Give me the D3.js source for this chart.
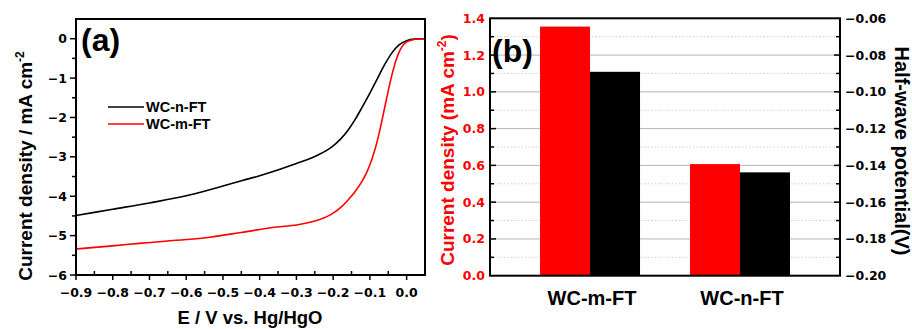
<!DOCTYPE html>
<html lang="en">
  <head>
    <meta charset="UTF-8" />
    <title>WC-FT LSV</title>
    <style>
      body { margin: 0; background: #fff; }
      svg text { font-family: "Liberation Sans", Arial, sans-serif; font-weight: bold; }
      .tick-lbl { font-family: "DejaVu Sans", sans-serif; font-size: 12.5px; }
    </style>
  </head>
  <body>
    <div class="chart"></div>
    <script src="https://d3js.org/d3.v7.min.js"></script>
    <script>
      // (a) LSV curves
      const nftE = [-0.9, -0.8, -0.7, -0.6, -0.5, -0.447, -0.4, -0.3, -0.25, -0.22, -0.2, -0.18, -0.16, -0.14, -0.12, -0.1, -0.08, -0.06, -0.04, -0.02, 0.0, 0.02, 0.05];
      const nftJ = [-4.49, -4.33, -4.17, -3.99, -3.74, -3.6, -3.48, -3.17, -2.99, -2.85, -2.72, -2.55, -2.33, -2.05, -1.72, -1.38, -1.02, -0.66, -0.36, -0.15, -0.05, -0.01, 0];
      const mftE = [-0.9, -0.8, -0.72, -0.6, -0.536, -0.45, -0.354, -0.3, -0.25, -0.22, -0.2, -0.18, -0.16, -0.14, -0.12, -0.11, -0.1, -0.09, -0.08, -0.07, -0.06, -0.05, -0.04, -0.03, -0.02, -0.01, 0.0, 0.02, 0.04, 0.05];
      const mftJ = [-5.34, -5.26, -5.19, -5.1, -5.04, -4.92, -4.78, -4.73, -4.63, -4.53, -4.43, -4.29, -4.1, -3.88, -3.6, -3.42, -3.2, -2.93, -2.6, -2.2, -1.76, -1.32, -0.92, -0.58, -0.33, -0.17, -0.08, -0.02, 0, 0];
      const xTicksA = [-0.9, -0.8, -0.7, -0.6, -0.5, -0.4, -0.3, -0.2, -0.1, 0.0];
      const yTicksA = [0, -1, -2, -3, -4, -5, -6];

      // (b) bars
      const samples = ["WC-m-FT", "WC-n-FT"];
      const currentDensity = [1.355, 0.607];
      const halfWave = [-0.0891, -0.1438];
      const yTicksB = [0.0, 0.2, 0.4, 0.6, 0.8, 1.0, 1.2, 1.4];
      const y2TicksB = [-0.2, -0.18, -0.16, -0.14, -0.12, -0.1, -0.08, -0.06];

      const width = 912;
      const height = 329;
      const red = "#ff0000";

      const svg = d3
        .select(".chart")
        .append("svg")
        .attr("width", width)
        .attr("height", height);

      // ---------- panel (a) ----------
      const xA = d3.scaleLinear().domain([-0.9, 0.05]).range([76, 425]);
      const yA = d3.scaleLinear().domain([-6, 0.5]).range([275, 19]);

      const line = d3
        .line()
        .x((d) => xA(d[0]))
        .y((d) => yA(d[1]))
        .curve(d3.curveMonotoneX);

      const gA = svg.append("g");

      gA.append("path")
        .datum(nftE.map((e, i) => [e, nftJ[i]]))
        .attr("d", line)
        .attr("fill", "none")
        .attr("stroke", "#000")
        .attr("stroke-width", 1.6);

      gA.append("path")
        .datum(mftE.map((e, i) => [e, mftJ[i]]))
        .attr("d", line)
        .attr("fill", "none")
        .attr("stroke", red)
        .attr("stroke-width", 1.6);

      // frame
      gA.append("rect")
        .attr("x", xA.range()[0])
        .attr("y", yA.range()[1])
        .attr("width", xA.range()[1] - xA.range()[0])
        .attr("height", yA.range()[0] - yA.range()[1])
        .attr("fill", "none")
        .attr("stroke", "#000")
        .attr("stroke-width", 2);

      // x ticks: major out, minor in
      gA.selectAll(".xmaj")
        .data(xTicksA)
        .join("line")
        .attr("x1", (d) => xA(d))
        .attr("x2", (d) => xA(d))
        .attr("y1", 275)
        .attr("y2", 280)
        .attr("stroke", "#000")
        .attr("stroke-width", 1.5);
      gA.selectAll(".xmin")
        .data(xTicksA.map((d) => d + 0.05))
        .join("line")
        .attr("x1", (d) => xA(d))
        .attr("x2", (d) => xA(d))
        .attr("y1", 275)
        .attr("y2", 271)
        .attr("stroke", "#000")
        .attr("stroke-width", 1.5);
      gA.selectAll(".xlbl")
        .data(xTicksA)
        .join("text")
        .attr("class", "tick-lbl")
        .attr("x", (d) => xA(d))
        .attr("y", 297)
        .attr("text-anchor", "middle")
        .text((d) => d3.format(".1f")(d));

      // y ticks
      gA.selectAll(".ymaj")
        .data(yTicksA)
        .join("line")
        .attr("x1", 70)
        .attr("x2", 76)
        .attr("y1", (d) => yA(d))
        .attr("y2", (d) => yA(d))
        .attr("stroke", "#000")
        .attr("stroke-width", 1.5);
      gA.selectAll(".ymin")
        .data(yTicksA.slice(0, -1).map((d) => d - 0.5))
        .join("line")
        .attr("x1", 72)
        .attr("x2", 76)
        .attr("y1", (d) => yA(d))
        .attr("y2", (d) => yA(d))
        .attr("stroke", "#000")
        .attr("stroke-width", 1.5);
      gA.selectAll(".ylbl")
        .data(yTicksA)
        .join("text")
        .attr("class", "tick-lbl")
        .attr("x", 67)
        .attr("y", (d) => yA(d) + 4.5)
        .attr("text-anchor", "end")
        .text((d) => d3.format("d")(d));

      // legend
      const legend = [
        { name: "WC-n-FT", color: "#000", y: 107 },
        { name: "WC-m-FT", color: red, y: 124 },
      ];
      gA.selectAll(".lg-line")
        .data(legend)
        .join("line")
        .attr("x1", 108)
        .attr("x2", 144)
        .attr("y1", (d) => d.y)
        .attr("y2", (d) => d.y)
        .attr("stroke", (d) => d.color)
        .attr("stroke-width", 1.6);
      gA.selectAll(".lg-text")
        .data(legend)
        .join("text")
        .attr("x", 146)
        .attr("y", (d) => d.y + 5)
        .style("font-size", "14.5px")
        .text((d) => d.name);

      gA.append("text")
        .attr("x", 81)
        .attr("y", 51)
        .style("font-size", "32px")
        .text("(a)");

      gA.append("text")
        .attr("x", 250)
        .attr("y", 324)
        .attr("text-anchor", "middle")
        .style("font-size", "18.5px")
        .text("E / V vs. Hg/HgO");

      const yTitleA = gA
        .append("text")
        .attr("transform", "translate(32,166) rotate(-90)")
        .attr("text-anchor", "middle")
        .style("font-size", "19px");
      yTitleA.append("tspan").text("Current density / mA cm");
      yTitleA.append("tspan").attr("dy", -8).style("font-size", "12px").text("-2");

      // ---------- panel (b) ----------
      const xB = d3.scalePoint().domain(samples).range([490, 840]).padding(0.667);
      const yB = d3.scaleLinear().domain([0, 1.4]).range([275.7, 18.3]);
      const yB2 = d3.scaleLinear().domain([-0.2, -0.06]).range([275.7, 18.3]);
      const barW = 50;

      const gB = svg.append("g");

      // grid
      const gridVals = d3.range(1, 14).map((i) => i / 10);
      gB.selectAll(".grid")
        .data(gridVals)
        .join("line")
        .attr("x1", 490)
        .attr("x2", 840)
        .attr("y1", (d) => yB(d))
        .attr("y2", (d) => yB(d))
        .attr("stroke", (d, i) => (i % 2 === 1 ? "#b4b4b4" : "#cfcfcf"))
        .attr("stroke-width", 1)
        .attr("stroke-dasharray", (d, i) => (i % 2 === 1 ? null : "1.5,2"));

      gB.selectAll(".bar-cd")
        .data(samples)
        .join("rect")
        .attr("x", (d) => xB(d) - barW)
        .attr("y", (d, i) => yB(currentDensity[i]))
        .attr("width", barW)
        .attr("height", (d, i) => yB(0) - yB(currentDensity[i]))
        .attr("fill", red);

      gB.selectAll(".bar-hw")
        .data(samples)
        .join("rect")
        .attr("x", (d) => xB(d))
        .attr("y", (d, i) => yB2(halfWave[i]))
        .attr("width", barW)
        .attr("height", (d, i) => yB2(-0.2) - yB2(halfWave[i]))
        .attr("fill", "#000");

      gB.append("rect")
        .attr("x", 490)
        .attr("y", 18.3)
        .attr("width", 350)
        .attr("height", 275.7 - 18.3)
        .attr("fill", "none")
        .attr("stroke", "#000")
        .attr("stroke-width", 2);

      // left ticks (inward)
      gB.selectAll(".lt")
        .data(d3.range(1, 14).map((i) => i / 10))
        .join("line")
        .attr("x1", 490)
        .attr("x2", (d, i) => (i % 2 === 1 ? 496 : 494))
        .attr("y1", (d) => yB(d))
        .attr("y2", (d) => yB(d))
        .attr("stroke", "#000")
        .attr("stroke-width", 1.5);
      gB.selectAll(".llbl")
        .data(yTicksB)
        .join("text")
        .attr("class", "tick-lbl")
        .attr("x", 485)
        .attr("y", (d) => yB(d) + 4.5)
        .attr("text-anchor", "end")
        .attr("fill", red)
        .text((d) => d3.format(".1f")(d));

      // right ticks (inward)
      gB.selectAll(".rt")
        .data(d3.range(1, 14).map((i) => -0.2 + i / 100))
        .join("line")
        .attr("x1", 840)
        .attr("x2", (d, i) => (i % 2 === 1 ? 834 : 836))
        .attr("y1", (d) => yB2(d))
        .attr("y2", (d) => yB2(d))
        .attr("stroke", "#000")
        .attr("stroke-width", 1.5);
      gB.selectAll(".rlbl")
        .data(y2TicksB)
        .join("text")
        .attr("class", "tick-lbl")
        .attr("x", 845)
        .attr("y", (d) => yB2(d) + 4.5)
        .text((d) => d3.format(".2f")(d));

      gB.selectAll(".cat")
        .data(samples)
        .join("text")
        .attr("x", (d) => xB(d) + 2)
        .attr("y", 305)
        .attr("text-anchor", "middle")
        .style("font-size", "20px")
        .text((d) => d);

      gB.append("text")
        .attr("x", 492)
        .attr("y", 62)
        .style("font-size", "32px")
        .text("(b)");

      const yTitleB = gB
        .append("text")
        .attr("transform", "translate(454,150) rotate(-90)")
        .attr("text-anchor", "middle")
        .attr("fill", red)
        .style("font-size", "19px");
      yTitleB.append("tspan").text("Current density (mA cm");
      yTitleB.append("tspan").attr("dy", -8).style("font-size", "12px").text("-2");
      yTitleB.append("tspan").attr("dy", 8).text(")");

      gB.append("text")
        .attr("transform", "translate(895,151) rotate(90)")
        .attr("text-anchor", "middle")
        .style("font-size", "20px")
        .text("Half-wave potential(V)");
    </script>
  </body>
</html>
